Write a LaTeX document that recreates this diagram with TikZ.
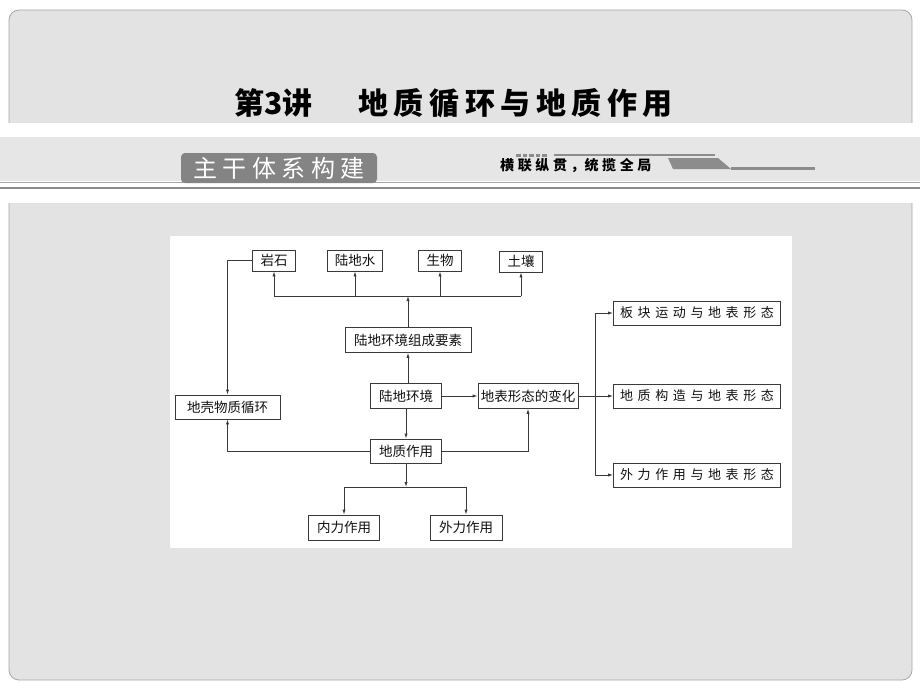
\documentclass[tikz,border=0pt]{standalone}
\usepackage{fontspec}
\setmainfont{Noto Sans CJK SC}
\usetikzlibrary{arrows.meta,calc}
\definecolor{panelfill}{HTML}{E3E3E3}
\definecolor{bandfill}{HTML}{E6E6E6}
\definecolor{panelline}{HTML}{A6A6A6}
\definecolor{tabfill}{HTML}{848484}
\definecolor{decogray}{HTML}{8C8C8C}
\definecolor{linec}{HTML}{3A3A3A}
\definecolor{txt}{HTML}{111111}
\newcommand\gk{\hspace{4.6pt}}
\newcommand\gt{\hspace{5.6pt}}
\newcommand\gb{\hspace{5.4pt}}
\newcommand\gs{\hspace{3.6pt}}
\begin{document}
\begin{tikzpicture}[x=1pt,y=-1pt,
  box/.style={draw=linec, line width=0.8pt, fill=white, inner sep=0pt, minimum height=24pt, text=txt, font=\fontsize{13.5}{14}\selectfont},
  widebox/.style={box, minimum width=167pt, minimum height=24pt, font=\fontsize{13}{14}\selectfont},
  arr/.style={draw=linec, line width=0.8pt, -{Latex[length=5pt,width=3.2pt]}},
  ln/.style={draw=linec, line width=0.8pt}]
\useasboundingbox (0,0) rectangle (920,690);
\fill[white] (0,0) rectangle (920,690);
% top panel
\fill[panelfill, rounded corners=10pt] (9,123) -- (9,10) -- (912,10) -- (912,123) -- cycle;
\fill[panelfill] (9,110) rectangle (912,123);
\draw[panelline, line width=0.8pt, rounded corners=10pt] (9,123) -- (9,10) -- (912,10) -- (912,123);
% band
\fill[bandfill] (0,137) rectangle (920,181);
\draw[panelline, line width=1pt] (0,182.8) -- (920,182.8);
\draw[decogray, line width=2.2pt] (0,187.7) -- (920,187.7);
% lower panel
\fill[panelfill, rounded corners=10pt] (9,203) -- (9,680) -- (912,680) -- (912,203) -- cycle;
\fill[panelfill] (9,203) rectangle (912,215);
\draw[panelline, line width=0.8pt, rounded corners=10pt] (9,203) -- (9,680) -- (912,680) -- (912,203);
% white diagram area
\fill[white] (170,236) rectangle (792,548);
% title
\node[anchor=west, inner sep=0pt, font=\fontsize{30}{30}\selectfont\bfseries] (t1) at (234,103) {第3讲};
\node[anchor=west, inner sep=0pt, font=\fontsize{30}{30}\selectfont\bfseries] (t2) at (358,103) {地\gt 质\gt 循\gt 环\gt 与\gt 地\gt 质\gt 作\gt 用};
% tab
\fill[tabfill, rounded corners=4pt] (181,183) -- (181,153) -- (377,153) -- (377,183) -- cycle;
\node[inner sep=0pt, text=white, font=\fontsize{24}{24}\selectfont] (tab) at (279,168) {主\gb 干\gb 体\gb 系\gb 构\gb 建};
% subtitle and decoration
\node[anchor=west, inner sep=0pt, text=black, font=\fontsize{14}{14}\selectfont\bfseries] (sub) at (500,166) {横\gs 联\gs 纵\gs 贯\gs ，统\gs 揽\gs 全\gs 局};
\foreach \i in {0,...,4} {\fill[decogray] (516+\i*6.6,154) rectangle (520.5+\i*6.6,156.5);}
\fill[decogray] (554,153.5) rectangle (715,156);
\fill[decogray] (668,158) -- (718,158) -- (731,169) -- (673,169) -- cycle;
\fill[decogray] (731,167) rectangle (815,169.5);
% nodes
\node[box, minimum width=43pt, minimum height=21pt] (ys) at (274,260.5) {岩石};
\node[box, minimum width=55pt, minimum height=21pt] (lds) at (355,260.5) {陆地水};
\node[box, minimum width=43pt, minimum height=21pt] (sw) at (440,260.5) {生物};
\node[box, minimum width=43pt, minimum height=21pt] (tr) at (521,261.5) {土壤};
\node[box, minimum width=126pt, minimum height=25pt] (zc) at (408,340) {陆地环境组成要素};
\node[box, minimum width=71pt, minimum height=25pt] (ld) at (406,396) {陆地环境};
\node[box, minimum width=100pt, minimum height=25pt] (dbx) at (528,396) {地表形态的变化};
\node[box, minimum width=71pt, minimum height=24pt] (dz) at (406,451) {地质作用};
\node[box, minimum width=105pt, minimum height=24pt] (dq) at (227.5,407) {地壳物质循环};
\node[box, minimum width=71pt, minimum height=25pt] (nl) at (344,527.5) {内力作用};
\node[box, minimum width=72pt, minimum height=25pt] (wl) at (466,527.5) {外力作用};
\node[widebox] (bk) at (697,313) {板\gk 块\gk 运\gk 动\gk 与\gk 地\gk 表\gk 形\gk 态};
\node[widebox] (dg) at (697,396) {地\gk 质\gk 构\gk 造\gk 与\gk 地\gk 表\gk 形\gk 态};
\node[widebox] (wz) at (697,475) {外\gk 力\gk 作\gk 用\gk 与\gk 地\gk 表\gk 形\gk 态};
% bus coordinates
\coordinate (busU) at (408,296);
\coordinate (busL) at (406,487);
\coordinate (busR) at (595,396);
% upper bus
\draw[ln] (ys.south |- busU) -- (tr.south |- busU);
\draw[arr] (zc.north) -- (busU);
\draw[arr] (ys.south |- busU) -- (ys.south);
\draw[arr] (lds.south |- busU) -- (lds.south);
\draw[arr] (sw.south |- busU) -- (sw.south);
\draw[arr] (tr.south |- busU) -- (tr.south);
% centre column
\draw[arr] (ld.north -| zc.south) -- (zc.south);
\draw[arr] (ld.east) -- (dbx.west);
\draw[arr] (ld.south) -- (dz.north);
\draw[arr] (ys.west) -| (dq.north);
\draw[arr] (dz.west) -| (dq.south);
\draw[arr] (dz.east) -| (dbx.south);
% lower bus
\draw[arr] (dz.south) -- (busL);
\draw[ln] (nl.north |- busL) -- (wl.north |- busL);
\draw[arr] (nl.north |- busL) -- (nl.north);
\draw[arr] (wl.north |- busL) -- (wl.north);
% right bus
\draw[arr] (dbx.east) -- (dg.west);
\draw[ln] (busR |- bk.west) -- (busR |- wz.west);
\draw[arr] (busR |- bk.west) -- (bk.west);
\draw[arr] (busR |- wz.west) -- (wz.west);
\end{tikzpicture}
\end{document}
